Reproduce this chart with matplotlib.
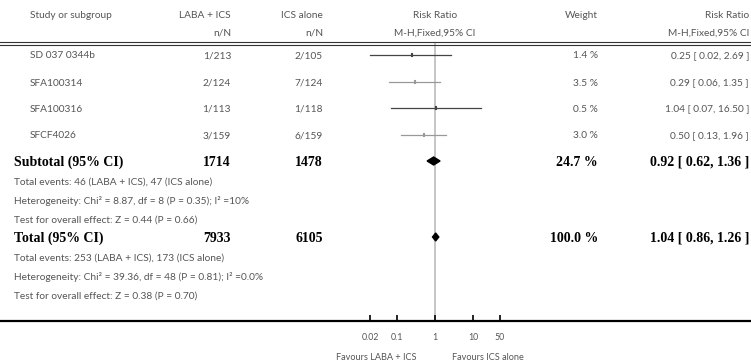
import numpy as np
import matplotlib
matplotlib.use("Agg")
import matplotlib.pyplot as plt

# data
studies = ["SD 037 0344b", "SFA100314", "SFA100316", "SFCF4026"]
laba_nN = ["1/213", "2/124", "1/113", "3/159"]
ics_nN = ["2/105", "7/124", "1/118", "6/159"]
weights = ["1.4 %", "3.5 %", "0.5 %", "3.0 %"]
rr = [0.25, 0.29, 1.04, 0.50]
lo = [0.02, 0.06, 0.07, 0.13]
hi = [2.69, 1.35, 16.50, 1.96]

sub_rr, sub_lo, sub_hi = 0.92, 0.62, 1.36
sub_n = ["1714", "1478"]
sub_weight = "24.7 %"
tot_rr, tot_lo, tot_hi = 1.04, 0.86, 1.26
tot_n = ["7933", "6105"]
tot_weight = "100.0 %"

sub_notes = ["Total events: 46 (LABA + ICS), 47 (ICS alone)",
             "Heterogeneity: Chi² = 8.87, df = 8 (P = 0.35); I² =10%",
             "Test for overall effect: Z = 0.44 (P = 0.66)"]
tot_notes = ["Total events: 253 (LABA + ICS), 173 (ICS alone)",
             "Heterogeneity: Chi² = 39.36, df = 48 (P = 0.81); I² =0.0%",
             "Test for overall effect: Z = 0.38 (P = 0.70)"]
ticks = [0.02, 0.1, 1, 10, 50]
tick_labels = ["0.02", "0.1", "1", "10", "50"]

W, H = 751, 364
fig = plt.figure(figsize=(W / 100, H / 100), dpi=100)

# forest axes spans the full width; bottom spine is the long axis line
axis_y = 321
ax = fig.add_axes([0, (H - axis_y) / H, 1, axis_y / H])
x1 = 435.0
dec = 38.0
ax.set_xscale("log")
ax.set_xlim(10 ** (-x1 / dec), 10 ** ((W - x1) / dec))
ax.set_ylim(axis_y, 0)
for s in ["top", "left", "right"]:
    ax.spines[s].set_visible(False)
ax.spines["bottom"].set_linewidth(1.6)
ax.set_yticks([])
ax.set_xticks(ticks)
ax.set_xticklabels(tick_labels)
ax.minorticks_off()
ax.tick_params(axis="x", direction="in", length=4, width=1.2, labelsize=6.3,
               pad=9, labelcolor="#555")
for lab in ax.get_xticklabels():
    lab.set_family("Lato")

# line of no effect
ax.plot([1, 1], [43, axis_y], color="#bbbbbb", lw=1.2, zorder=1)

row_y = [55, 82, 108, 135]
line_cols = ["#444444", "#999999", "#444444", "#999999"]
for y, r, l, h, c in zip(row_y, rr, lo, hi, line_cols):
    ax.plot([l, h], [y, y], color=c, lw=0.9, zorder=2)
    ax.plot([r, r], [y - 1.2, y + 1.2], color=c, lw=1.5, zorder=3)


def diamond(y, r, l, h, hh):
    xs = [l, r, h, r, l]
    ys = [y, y - hh, y, y + hh, y]
    ax.fill(xs, ys, color="black", zorder=3)


sub_y, tot_y = 161, 237
diamond(sub_y, sub_rr, sub_lo, sub_hi, 4)
diamond(tot_y, tot_rr, tot_lo, tot_hi, 4)

light = dict(family="Lato", fontsize=7.3, color="#555555")
bold = dict(family="Liberation Serif", fontsize=10, weight="bold", color="black")


def t(x, y, s, ha="left", **kw):
    fig.text(x / W, 1 - y / H, s, ha=ha, va="center", **kw)


right = 749
# header
t(30, 16, "Study or subgroup", **light)
t(231, 16, "LABA + ICS", ha="right", **light)
t(323, 16, "ICS alone", ha="right", **light)
t(435, 16, "Risk Ratio", ha="center", **light)
t(598, 16, "Weight", ha="right", **light)
t(right, 16, "Risk Ratio", ha="right", **light)
t(231, 33, "n/N", ha="right", **light)
t(323, 33, "n/N", ha="right", **light)
t(435, 33, "M-H,Fixed,95% CI", ha="center", **light)
t(right, 33, "M-H,Fixed,95% CI", ha="right", **light)

# double rule
fig.add_artist(plt.Line2D([0, 1], [1 - 42 / H, 1 - 42 / H], color="#333", lw=0.8))
fig.add_artist(plt.Line2D([0, 1], [1 - 44.5 / H, 1 - 44.5 / H], color="#333", lw=0.8))

for y, name, a, b, w, r, l, h in zip(row_y, studies, laba_nN, ics_nN, weights, rr, lo, hi):
    t(30, y + 1, name, **light)
    t(231, y + 1, a, ha="right", **light)
    t(323, y + 1, b, ha="right", **light)
    t(598, y + 1, w, ha="right", **light)
    t(right, y + 1, "%.2f [ %.2f, %.2f ]" % (r, l, h), ha="right", **light)

t(14, sub_y + 1, "Subtotal (95% CI)", **bold)
t(231, sub_y + 1, sub_n[0], ha="right", **bold)
t(323, sub_y + 1, sub_n[1], ha="right", **bold)
t(598, sub_y + 1, sub_weight, ha="right", **bold)
t(right, sub_y + 1, "%.2f [ %.2f, %.2f ]" % (sub_rr, sub_lo, sub_hi), ha="right", **bold)
for i, s in enumerate(sub_notes):
    t(14, 182 + i * 19, s, **light)

t(14, tot_y + 1, "Total (95% CI)", **bold)
t(231, tot_y + 1, tot_n[0], ha="right", **bold)
t(323, tot_y + 1, tot_n[1], ha="right", **bold)
t(598, tot_y + 1, tot_weight, ha="right", **bold)
t(right, tot_y + 1, "%.2f [ %.2f, %.2f ]" % (tot_rr, tot_lo, tot_hi), ha="right", **bold)
for i, s in enumerate(tot_notes):
    t(14, 258 + i * 19, s, **light)

t(376, 357, "Favours LABA + ICS", ha="center", **dict(light, fontsize=6.6))
t(488, 357, "Favours ICS alone", ha="center", **dict(light, fontsize=6.6))

fig.savefig("out.png", dpi=100)
